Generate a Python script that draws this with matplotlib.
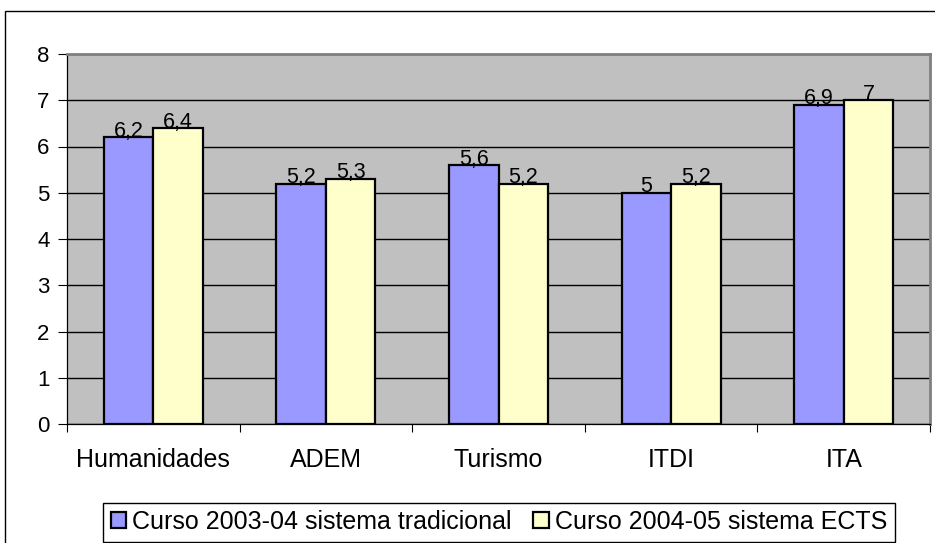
import matplotlib
matplotlib.use("Agg")
import matplotlib.pyplot as plt
from matplotlib.patches import Rectangle
import numpy as np

categories = ["Humanidades", "ADEM", "Turismo", "ITDI", "ITA"]
serie_2003 = [6.2, 5.2, 5.6, 5.0, 6.9]
serie_2004 = [6.4, 5.3, 5.2, 5.2, 7.0]
series_names = ["Curso 2003-04 sistema tradicional", "Curso 2004-05 sistema ECTS"]
yticks = [0, 1, 2, 3, 4, 5, 6, 7, 8]

plt.rcParams['font.family'] = ['Liberation Sans', 'DejaVu Sans']

W, H = 935, 543
fig = plt.figure(figsize=(W / 100, H / 100), dpi=100)
ax = fig.add_axes([67 / W, 1 - 424 / H, (930 - 67) / W, (424 - 54) / H])
ax.set_facecolor('#C0C0C0')

# outer chart frame (extends beyond the cropped image)
fig.patches.append(Rectangle((5 / W, -0.1), 1.2, (1 - 11 / H) + 0.1, transform=fig.transFigure,
                             fill=False, edgecolor='black', linewidth=1.0, zorder=0))

x = np.arange(len(categories))
bw = 0.287
b1 = ax.bar(x - bw / 2, serie_2003, bw, color='#9999FF', edgecolor='black', linewidth=1.6,
            label=series_names[0], zorder=3)
b2 = ax.bar(x + bw / 2, serie_2004, bw, color='#FFFFCC', edgecolor='black', linewidth=1.6,
            label=series_names[1], zorder=3)

def fmt(v):
    s = f"{v:g}"
    return s.replace('.', ',')

for bars, vals in ((b1, serie_2003), (b2, serie_2004)):
    for rect, v in zip(bars, vals):
        ax.annotate(fmt(v), (rect.get_x() + rect.get_width() / 2, v), xytext=(0, 0.3),
                    textcoords='offset points', ha='center', va='baseline', fontsize=15.5, zorder=4)

ax.set_ylim(0, 8)
ax.set_xlim(-0.5, len(categories) - 0.5)
ax.set_yticks(yticks)
ax.set_yticklabels([str(t) for t in yticks], fontsize=16)
ax.yaxis.grid(True, color='black', linewidth=1.0, zorder=1)
ax.set_axisbelow(True)

ax.set_xticks(np.arange(len(categories) + 1) - 0.5)
ax.set_xticklabels([])
ax.set_xticks(x, minor=True)
ax.set_xticklabels(categories, minor=True, fontsize=18)
ax.tick_params(axis='x', which='minor', length=0, pad=17)
ax.tick_params(axis='x', which='major', length=6, width=0.8, direction='out')
ax.tick_params(axis='y', length=6.5, width=0.8, pad=6)

ax.spines['top'].set_color('#808080')
ax.spines['right'].set_color('#808080')
ax.spines['top'].set_linewidth(2)
ax.spines['right'].set_linewidth(2)
ax.spines['left'].set_color('black')
ax.spines['bottom'].set_color('black')
ax.spines['left'].set_linewidth(0.9)
ax.spines['bottom'].set_linewidth(0.9)

leg = fig.legend(handles=[b1, b2], labels=series_names, loc='center',
                 bbox_to_anchor=((99 + 899) / 2 / W, 1 - 522 / H), ncol=2, fontsize=18,
                 frameon=True, fancybox=False, edgecolor='black', framealpha=1,
                 handlelength=0.62, handleheight=0.62, handletextpad=0.25, columnspacing=0.85,
                 borderpad=0.3, borderaxespad=0)
leg.get_frame().set_linewidth(1.0)

fig.savefig('out.png', dpi=100)
